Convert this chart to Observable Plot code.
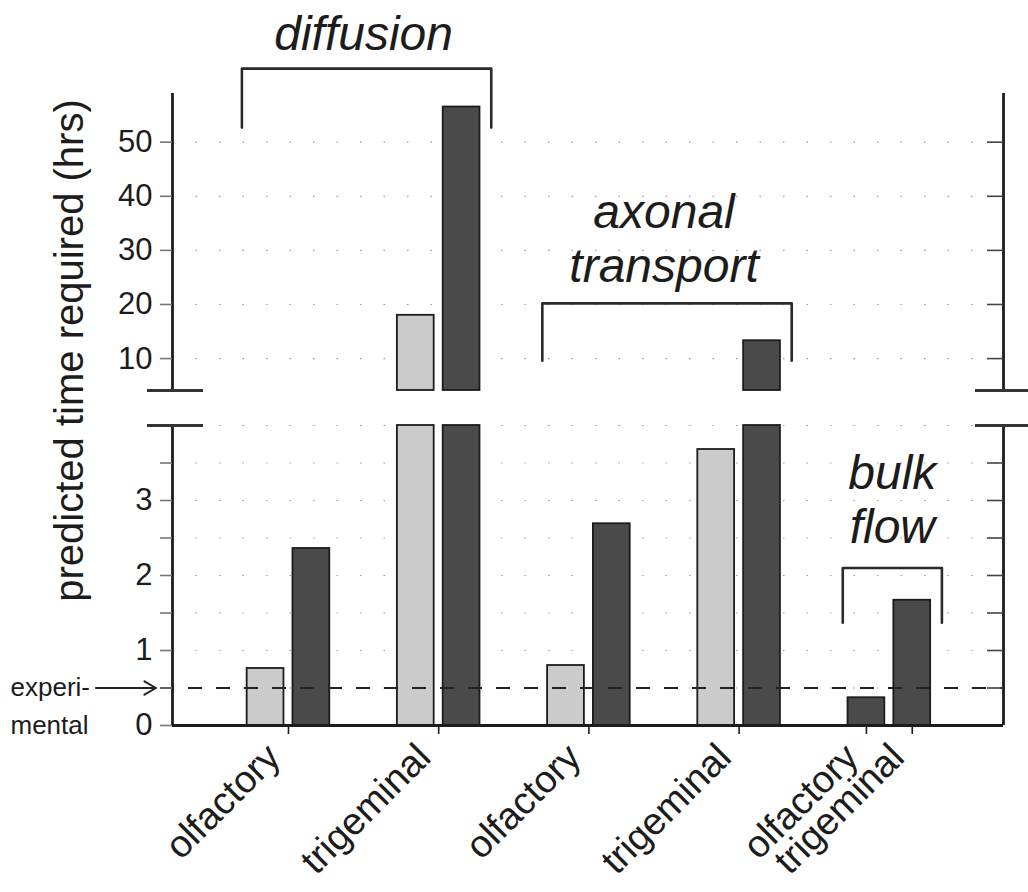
<!DOCTYPE html>
<html>
<head>
<meta charset="utf-8">
<script src="https://cdn.jsdelivr.net/npm/d3@7"></script>
<script src="https://cdn.jsdelivr.net/npm/@observablehq/plot@0.6"></script>
<style>
  html, body { margin: 0; padding: 0; background: #fff; }
  #chart svg { display: block; }
</style>
</head>
<body>
<div id="chart"></div>
<script>
// ---------------- data ----------------
const pairNames       = ["diffusion · olfactory", "diffusion · trigeminal", "axonal · olfactory", "axonal · trigeminal", "bulk flow"];
const firstBarValue   = [0.76, 18.0, 0.80, 3.68, 0.37];
const secondBarValue  = [2.36, 56.5, 2.69, 13.3, 1.67];
const firstBarShade   = ["light", "light", "light", "light", "dark"];
const secondBarShade  = ["dark", "dark", "dark", "dark", "dark"];

const mechanismLabels = ["diffusion", "axonal\ntransport", "bulk\nflow"];
const mechanismPairs  = [[0, 1], [2, 3], [4, 4]];

const xTickLabels = ["olfactory", "trigeminal", "olfactory", "trigeminal", "olfactory", "trigeminal"];
const xTickPair   = [0, 1, 2, 3, 4, 4];
const xTickAt     = ["pair", "pair", "pair", "pair", "first", "second"];

const yTicksLower = [0, 0.5, 1, 1.5, 2, 2.5, 3, 3.5];
const yTicksUpper = [10, 20, 30, 40, 50];
const yGrid       = [0.5, 1, 1.5, 2, 2.5, 3, 3.5, 4, 10, 20, 30, 40, 50];
const yBreak      = [4, 4.1];
const yTop        = 59;
const experimental = 0.5;
const experimentalLabel = ["experi-", "mental"];
const yTitle = "predicted time required (hrs)";

// ---------------- layout (styles / offsets) ----------------
const W = 1028, H = 892;
const mL = 172, mR = 25, mT = 93, mB = 167;
const frameW = W - mL - mR;
const xDomain = [-0.772, 4.76];
const barInner = 0.03, barOuter = 0.275, barMid = (barInner + barOuter) / 2;
const bracketLeft = 0.31, bracketRight = 0.35;
const bracketTop = [63.6, 20.2, 2.1];
const bracketLeg = [52.7, 9.6, 1.37];
const labelY = [70.3, 32.3, 3.02];
const labelShift = [0, 0, 0.02];

const bars = pairNames.flatMap((name, i) => [
  {name, i, side: -1, v: firstBarValue[i], shade: firstBarShade[i]},
  {name, i, side: 1, v: secondBarValue[i], shade: secondBarShade[i]}
]);
const barX1 = d => d.side < 0 ? d.i - barOuter : d.i + barInner;
const barX2 = d => d.side < 0 ? d.i - barInner : d.i + barOuter;

const xTicks = xTickLabels.map((label, k) => ({
  label,
  x: xTickAt[k] === "pair" ? xTickPair[k] : xTickPair[k] + (xTickAt[k] === "first" ? -barMid : barMid)
}));

const brackets = mechanismPairs.flatMap(([a, b], k) => {
  const xl = a - bracketLeft, xr = b + bracketRight;
  return [
    {k, x: xl, y: bracketLeg[k]}, {k, x: xl, y: bracketTop[k]},
    {k, x: xr, y: bracketTop[k]}, {k, x: xr, y: bracketLeg[k]}
  ];
});
const labels = mechanismLabels.map((text, k) => ({
  text, x: (mechanismPairs[k][0] + mechanismPairs[k][1]) / 2 + labelShift[k], y: labelY[k]
}));

const FONT = "'Liberation Sans', Arial, Helvetica, sans-serif";
const INK = "#1c1c1c";

const chart = Plot.plot({
  width: W, height: H,
  marginLeft: mL, marginRight: mR, marginTop: mT, marginBottom: mB,
  style: {fontFamily: FONT, background: "#fff", color: INK, overflow: "visible"},
  x: {type: "linear", domain: xDomain},
  y: {type: "linear", domain: [0, yBreak[0], yBreak[1], yTop], range: [725, 425, 390, 93]},
  color: {domain: ["light", "dark"], range: ["#cbcbcb", "#4a4a4a"]},
  marks: [
    // dotted grid
    Plot.ruleY(yGrid, {stroke: "#9a9a9a", strokeWidth: 1.2, strokeDasharray: "1.5,22"}),
    // bars: lower panel
    Plot.rect(bars, {x1: barX1, x2: barX2, y1: 0, y2: d => Math.min(d.v, yBreak[0]),
      fill: "shade", stroke: INK, strokeWidth: 1.8}),
    // bars: upper panel
    Plot.rect(bars.filter(d => d.v > yBreak[1]), {x1: barX1, x2: barX2, y1: yBreak[1], y2: "v",
      fill: "shade", stroke: INK, strokeWidth: 1.8}),
    // experimental level
    Plot.ruleY([experimental], {stroke: "#222", strokeWidth: 2.2, strokeDasharray: "14,14", insetLeft: -12}),
    Plot.arrow([experimental], {x1: xDomain[0] - 0.51, x2: xDomain[0] - 0.11, y1: d => d, y2: d => d,
      stroke: "#222", strokeWidth: 2, headLength: 10, insetEnd: 0}),
    Plot.text([experimentalLabel[0]], {frameAnchor: "left", y: () => experimental, dx: -162,
      textAnchor: "start", fontSize: 26, fill: INK}),
    Plot.text([experimentalLabel[1]], {frameAnchor: "left", y: () => experimental, dx: -162, dy: 38,
      textAnchor: "start", fontSize: 26, fill: INK}),
    // axis lines (broken)
    Plot.ruleX([xDomain[0], xDomain[1]], {y1: 0, y2: yBreak[0], stroke: INK, strokeWidth: 2.8}),
    Plot.ruleX([xDomain[0], xDomain[1]], {y1: yBreak[1], y2: yTop, stroke: INK, strokeWidth: 2.8}),
    Plot.ruleY([0], {stroke: INK, strokeWidth: 2.8}),
    // break marks
    Plot.ruleY(yBreak, {stroke: "#333", strokeWidth: 3.2, insetLeft: -25, insetRight: frameW - 31}),
    Plot.ruleY(yBreak, {stroke: "#333", strokeWidth: 3.2, insetLeft: frameW - 28, insetRight: -25}),
    // right-side ticks (inward)
    Plot.ruleY([...yTicksLower.slice(1), ...yTicksUpper], {stroke: "#444", strokeWidth: 1.6, insetLeft: frameW - 16}),
    // left axis
    Plot.axisY({anchor: "left", ticks: [...yTicksLower, ...yTicksUpper], tickSize: 12, tickPadding: 8,
      tickFormat: d => Number.isInteger(d) ? String(d) : "", fontSize: 31, stroke: "#777", strokeWidth: 1.6,
      label: null, fill: INK}),
    // x axis ticks
    Plot.axisX({anchor: "bottom", ticks: xTicks.map(d => d.x), tickSize: 9, tickFormat: () => "",
      label: null, stroke: INK, strokeWidth: 1.6}),
    // x labels
    Plot.text(xTicks, {x: "x", text: "label", frameAnchor: "bottom", rotate: -45, textAnchor: "end",
      dx: -6, dy: 34, fontSize: 38, fill: INK}),
    // y title
    Plot.text([yTitle], {frameAnchor: "left", rotate: -90, textAnchor: "middle", dx: -102, dy: -59,
      fontSize: 40, fill: INK}),
    // brackets and mechanism labels
    Plot.line(brackets, {x: "x", y: "y", z: "k", stroke: "#2a2a2a", strokeWidth: 2.6, curve: "linear"}),
    Plot.text(labels, {x: "x", y: "y", text: "text", fontSize: 48, fontStyle: "italic", lineHeight: 1.13, fill: INK})
  ]
});
document.getElementById("chart").appendChild(chart);
</script>
</body>
</html>
